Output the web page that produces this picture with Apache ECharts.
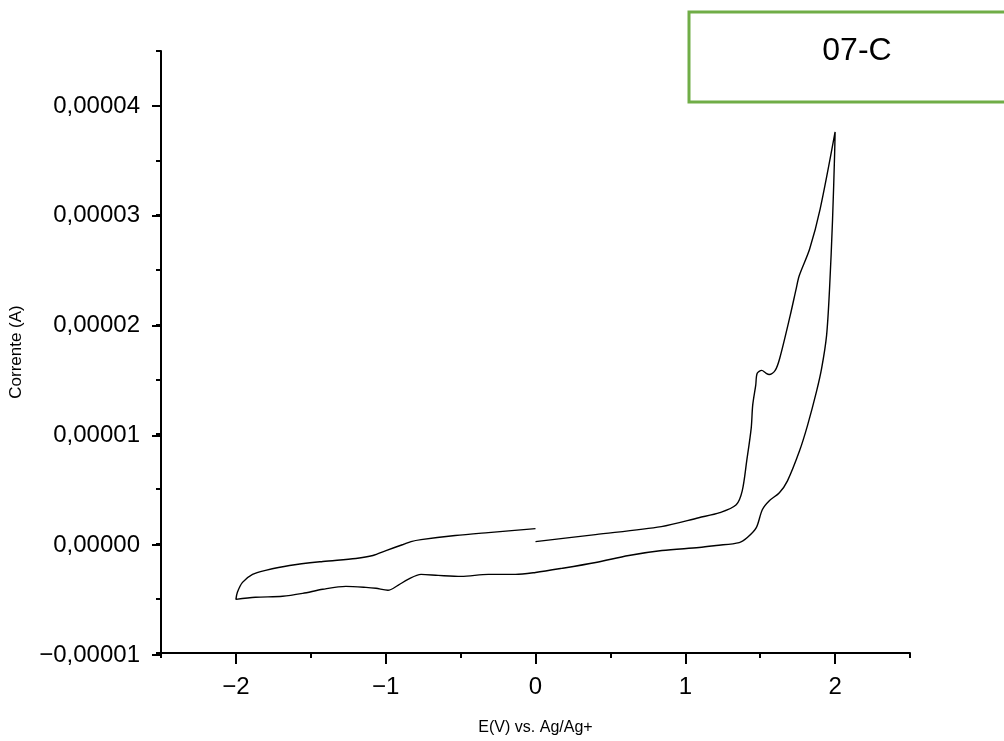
<!DOCTYPE html>
<html>
<head>
<meta charset="utf-8">
<script src="https://cdn.jsdelivr.net/npm/echarts@6/dist/echarts.min.js"></script>
<style>
  html, body { margin: 0; padding: 0; background: #fff; }
  #chart { width: 1004px; height: 741px; }
</style>
</head>
<body>
<div id="chart"></div>
<script>
// voltammogram: potential (V) and current (µA)
// varredura anódica 0 -> 2 V
const forwardE = [0, 0.40, 0.84, 1.09, 1.23, 1.34, 1.38, 1.41, 1.44, 1.45, 1.47, 1.48, 1.51, 1.54, 1.56, 1.60, 1.63, 1.70, 1.74, 1.76, 1.83, 1.90, 2.00]
const forwardI = [0.18, 0.82, 1.55, 2.36, 2.82, 3.55, 4.82, 7.55, 10.55, 12.64, 14.45, 15.55, 15.82, 15.55, 15.45, 15.82, 16.91, 20.82, 23.27, 24.45, 26.91, 30.55, 37.6]

// varredura catódica 2 -> -2 V
const reverseE = [1.997, 1.983, 1.963, 1.943, 1.910, 1.876, 1.816, 1.762, 1.682, 1.628, 1.561, 1.514, 1.474, 1.414, 1.360, 1.206, 1.092, 0.844, 0.623, 0.402, 0.174, 0, -0.134, -0.315, -0.496, -0.650, -0.764, -0.851, -0.918, -0.985, -1.065, -1.132, -1.266, -1.420, -1.554, -1.688, -1.869, -2.0]
const reverseI = [35.7, 29.6, 23.3, 19.0, 16.0, 13.9, 10.8, 8.45, 5.73, 4.64, 3.91, 3.09, 1.45, 0.55, 0.09, -0.18, -0.36, -0.64, -1.09, -1.73, -2.27, -2.64, -2.82, -2.82, -3.0, -2.91, -2.82, -3.27, -3.82, -4.27, -4.09, -4.0, -3.91, -4.18, -4.55, -4.82, -4.91, -5.1]

// volta -2 -> 0 V
const returnE = [-1.99, -1.956, -1.889, -1.802, -1.642, -1.420, -1.199, -1.085, -0.998, -0.884, -0.831, -0.764, -0.536, -0.315, 0]
const returnI = [-4.45, -3.55, -2.82, -2.45, -2.0, -1.64, -1.36, -1.09, -0.64, -0.09, 0.18, 0.36, 0.73, 1.0, 1.36]

const xTicks = [-2, -1, 0, 1, 2]
const yTicks = [-0.00001, 0, 0.00001, 0.00002, 0.00003, 0.00004]

const boxLabel = '07-C'

// monta os pontos [E, I(A)]
const allE = forwardE.concat(reverseE, returnE)
const allI = forwardI.concat(reverseI, returnI)
const points = allE.map((e, i) => [e, allI[i] * 1e-6])

const font = 'Liberation Sans, Arial, sans-serif'

const fmtX = (v) => (v < 0 ? '\u2212' : '') + Math.abs(v)
const fmtY = (v) => (v < -1e-12 ? '\u2212' : '') + Math.abs(v).toFixed(5).replace('.', ',')

const chartBox = document.getElementById('chart')
const chartInstance = echarts.init(chartBox, null, { renderer: 'canvas' })

const option = {
    animation: false,
    backgroundColor: '#fff',
    grid: [
        // grade principal (dados + ticks menores)
        { left: 161, right: 94, top: 51, bottom: 86 },
        // ticks maiores do eixo x
        { left: 235.9, right: 168.9, top: 51, bottom: 86 },
        // ticks maiores do eixo y
        { left: 161, right: 94, top: 105.9, bottom: 86 }
    ],
    xAxis: [
        {
            gridIndex: 0, type: 'value', min: -2.5, max: 2.5, interval: 0.5,
            name: 'E(V) vs. Ag/Ag+', nameLocation: 'middle', nameGap: 67,
            nameTextStyle: { fontFamily: font, fontSize: 16, color: '#000' },
            axisLine: { onZero: false, lineStyle: { color: '#000', width: 2 } },
            axisTick: { length: 5, lineStyle: { color: '#000', width: 2 } },
            axisLabel: { show: false },
            splitLine: { show: false }
        },
        {
            gridIndex: 1, type: 'value', min: xTicks[0], max: xTicks[xTicks.length - 1], interval: 1,
            axisLine: { show: false, onZero: false },
            axisTick: { length: 9, lineStyle: { color: '#000', width: 2 } },
            axisLabel: { margin: 20, fontFamily: font, fontSize: 24, color: '#000', formatter: fmtX },
            splitLine: { show: false }
        },
        {
            gridIndex: 2, type: 'value', min: -2.5, max: 2.5, show: false
        }
    ],
    yAxis: [
        {
            gridIndex: 0, type: 'value', min: -0.00001, max: 0.000045, interval: 0.000005,
            name: 'Corrente (A)', nameLocation: 'middle', nameGap: 136,
            nameTextStyle: { fontFamily: font, fontSize: 17, color: '#000' },
            axisLine: { onZero: false, lineStyle: { color: '#000', width: 2 } },
            axisTick: { length: 5, lineStyle: { color: '#000', width: 2 } },
            axisLabel: { show: false },
            splitLine: { show: false }
        },
        {
            gridIndex: 1, type: 'value', min: -0.00001, max: 0.000045, show: false
        },
        {
            gridIndex: 2, type: 'value', min: yTicks[0], max: yTicks[yTicks.length - 1], interval: 0.00001,
            axisLine: { show: false, onZero: false },
            axisTick: { length: 9, lineStyle: { color: '#000', width: 2 } },
            axisLabel: { margin: 21, fontFamily: font, fontSize: 24, color: '#000', formatter: fmtY },
            splitLine: { show: false }
        }
    ],
    series: [
        {
            type: 'line',
            xAxisIndex: 0,
            yAxisIndex: 0,
            data: points,
            showSymbol: false,
            smooth: 0.3,
            lineStyle: { color: '#000', width: 1.4 }
        }
    ],
    graphic: [
        {
            type: 'rect',
            shape: { x: 689, y: 12, width: 340, height: 90 },
            style: { fill: '#fff', stroke: '#70ad47', lineWidth: 3 }
        },
        {
            type: 'text',
            x: 857, y: 51,
            style: { text: boxLabel, font: '32px ' + font, fill: '#000', align: 'center', verticalAlign: 'middle' }
        }
    ]
}

chartInstance.setOption(option)
</script>
</body>
</html>
